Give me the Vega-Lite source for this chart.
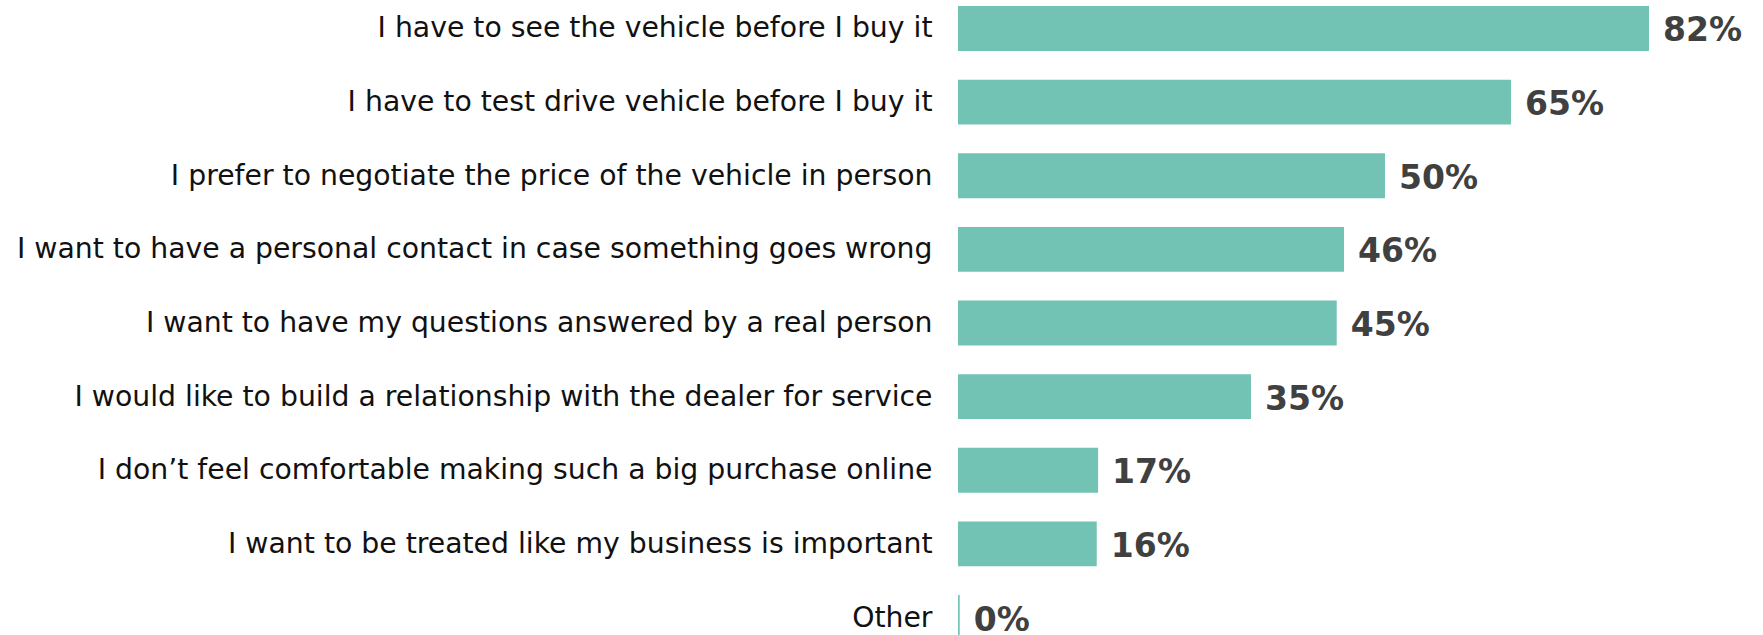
{
  "$schema": "https://vega.github.io/schema/vega-lite/v6.json",
  "autosize": {"type": "none"},
  "padding": {"left": 958, "top": 0, "right": 0, "bottom": 0},
  "width": 846.5,
  "height": 646,
  "background": "white",
  "config": {"view": {"stroke": null}, "font": "DejaVu Sans"},
  "data": {
    "values": [
      {"reason": "I have to see the vehicle before I buy it", "share": 0.8163},
      {"reason": "I have to test drive vehicle before I buy it", "share": 0.6533},
      {"reason": "I prefer to negotiate the price of the vehicle in person", "share": 0.5044},
      {"reason": "I want to have a personal contact in case something goes wrong", "share": 0.456},
      {"reason": "I want to have my questions answered by a real person", "share": 0.4474},
      {"reason": "I would like to build a relationship with the dealer for service", "share": 0.3461},
      {"reason": "I don’t feel comfortable making such a big purchase online", "share": 0.1655},
      {"reason": "I want to be treated like my business is important", "share": 0.1639},
      {"reason": "Other", "share": 0.002}
    ]
  },
  "encoding": {
    "y": {
      "field": "reason",
      "type": "nominal",
      "sort": null,
      "scale": {"paddingInner": 0.389, "paddingOuter": 0.0815},
      "axis": {
        "title": null,
        "domain": false,
        "ticks": false,
        "labelPadding": 26,
        "labelFontSize": 28.3,
        "labelOffset": 1,
        "labelColor": "#111111",
        "labelFont": "DejaVu Sans",
        "labelLimit": 1000
      }
    },
    "x": {
      "field": "share",
      "type": "quantitative",
      "scale": {"domain": [0, 1], "nice": false},
      "axis": null
    }
  },
  "layer": [
    {"mark": {"type": "bar", "color": "#72C3B4"}},
    {
      "mark": {
        "type": "text",
        "align": "left",
        "baseline": "middle",
        "dx": 14,
        "dy": 3,
        "fontSize": 33,
        "fontWeight": "bold",
        "color": "#404040",
        "font": "DejaVu Sans"
      },
      "encoding": {"text": {"field": "share", "type": "quantitative", "format": ".0%"}}
    }
  ]
}
